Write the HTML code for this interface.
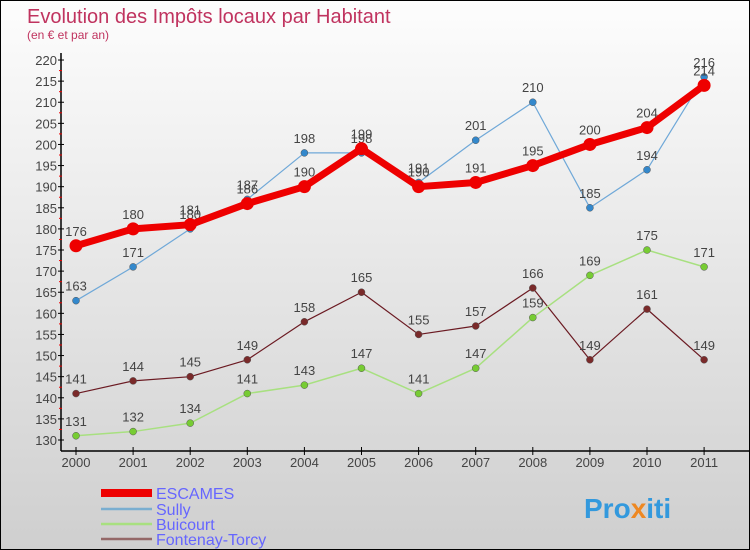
<!DOCTYPE html>
<html><head><meta charset="utf-8"><style>
body{margin:0}
#c{position:relative;width:748px;height:548px;border:1px solid #000;background:linear-gradient(#fdfdfd,#cfcfcf);font-family:"Liberation Sans",sans-serif;overflow:hidden}
</style></head><body>
<div id="c">
<svg width="748" height="548" font-family="Liberation Sans, sans-serif">
<text x="26" y="22" font-size="20" fill="#c0335f">Evolution des Impôts locaux par Habitant</text>
<text x="26" y="38" font-size="12" fill="#c0335f">(en € et par an)</text>
<g id="axes"></g>
<g id="series"></g>
<g id="legend"></g>
<text x="583" y="517" font-size="28" font-weight="bold" fill="#3399dd">Pro<tspan fill="#ee8822">x</tspan>iti</text>
</svg>
</div>
<script>
const years=[2000,2001,2002,2003,2004,2005,2006,2007,2008,2009,2010,2011];
const seriesNames=["Fontenay-Torcy","Buicourt","Sully","ESCAMES"];
const fontenay=[141,144,145,149,158,165,155,157,166,149,161,149];
const buicourt=[131,132,134,141,143,147,141,147,159,169,175,171];
const sully=[163,171,180,187,198,198,191,201,210,185,194,216];
const escames=[176,180,181,186,190,199,190,191,195,200,204,214];
const yTicks=[130,135,140,145,150,155,160,165,170,175,180,185,190,195,200,205,210,215,220];
const NS="http://www.w3.org/2000/svg";
function X(i){return 75+i*57.1;}
function Y(v){return 439-(v-130)*4.222;}
function mk(t,a,p){const e=document.createElementNS(NS,t);for(const k in a)e.setAttribute(k,a[k]);p.appendChild(e);return e;}
const ax=document.getElementById('axes');
let l=mk('line',{x1:60,y1:52,x2:60,y2:450,stroke:'#000','stroke-width':1.5},ax);


l=mk('line',{x1:60,y1:450,x2:748,y2:450,stroke:'#000','stroke-width':1.5},ax);


yTicks.forEach(v=>{
 mk('line',{x1:57,x2:63,y1:Y(v),y2:Y(v),stroke:'#000'},ax);
 if(v<220)mk('line',{x1:58,x2:61,y1:Y(v+2.5),y2:Y(v+2.5),stroke:'#e00'},ax);
 const t=mk('text',{x:56,y:Y(v)+5,'text-anchor':'end','font-size':13,fill:'#444'},ax);t.textContent=v;
 
 
});
years.forEach((yr,i)=>{
 mk('line',{x1:X(i),x2:X(i),y1:446,y2:454,stroke:'#000'},ax);
 const t=mk('text',{x:X(i),y:466,'text-anchor':'middle','font-size':13,fill:'#444'},ax);t.textContent=yr;
 
 
});
const sg=document.getElementById('series');
const defs=[[fontenay,'#6b1a22','#7a2a2a',1.2,3.5],[buicourt,'#a8e080','#77cc33',1.5,3.5],[sully,'#6fa8d8','#3388cc',1.2,3.5],[escames,'#ee0000','#ee0000',7,6.5]];
defs.forEach((d,si)=>{
 const g=mk('g',{},sg);
 
 
 const pl=mk('polyline',{points:d[0].map((v,i)=>X(i)+','+Y(v)).join(' '),fill:'none',stroke:d[1],'stroke-width':d[3],'stroke-linejoin':'round'},g);
 
 
 d[0].forEach((v,i)=>{
  const c=mk('circle',{cx:X(i),cy:Y(v),r:d[4],fill:d[2],stroke:si==3?'none':'#555','stroke-width':0.5},g);
  
  
  const t=mk('text',{x:X(i),y:Y(v)-10,'text-anchor':'middle','font-size':13,fill:'#444'},g);t.textContent=v;
  
  
 });
});
const lg=document.getElementById('legend');
const leg=[["ESCAMES",'#ee0000',8,492],["Sully",'#7aaed0',2.5,508],["Buicourt",'#a8e080',2.5,523],["Fontenay-Torcy",'#946868',2.5,538]];
leg.forEach(e=>{
 const g=mk('g',{},lg);
 
 
 mk('line',{x1:100,x2:151,y1:e[3],y2:e[3],stroke:e[1],'stroke-width':e[2]},g);
 const t=mk('text',{x:155,y:e[3]+6,'font-size':16,fill:'#6666ff'},g);t.textContent=e[0];
});
</script>
</body></html>
